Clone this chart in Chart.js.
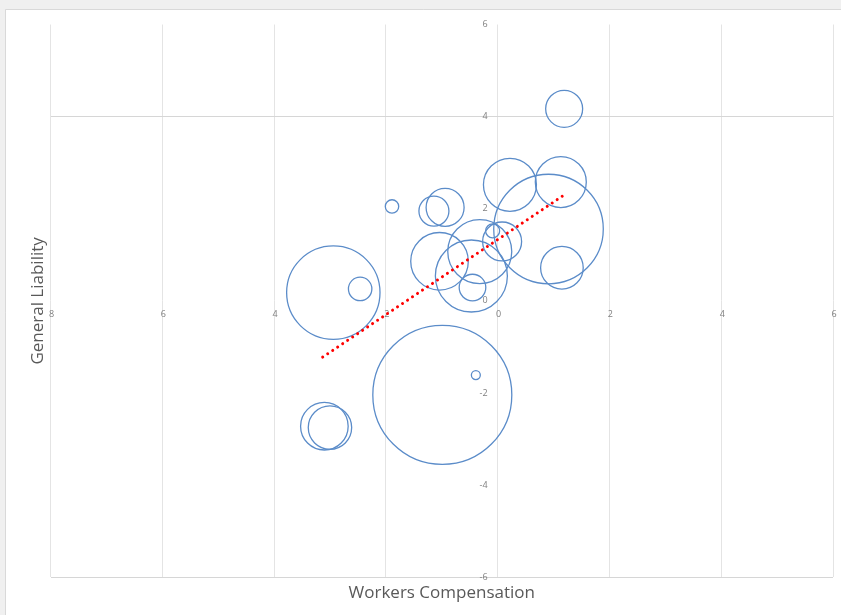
<!DOCTYPE html>
<html>
<head>
<meta charset="utf-8">
<script src="https://cdn.jsdelivr.net/npm/chart.js@4.4.1/dist/chart.umd.min.js"></script>
<style>
  html, body { margin: 0; padding: 0; background: #f0f0f0; }
  #wrap { width: 841px; height: 615px; }
  canvas { display: block; }
</style>
</head>
<body>
<div id="wrap"><canvas id="chart" width="841" height="615"></canvas></div>
<script>
// Workers Compensation (x) vs General Liability (y); bubble size = relative exposure
const wcValues = [1.19, 0.22, 1.13, 0.91, -1.89, -0.94, -1.14, -0.09, 0.08, -0.32,
                  -1.04, -0.47, -0.45, 1.15, -2.94, -2.46, -0.99, -0.39, -3.10, -3.00];
const glValues = [4.17, 2.52, 2.58, 1.56, 2.05, 2.03, 1.95, 1.52, 1.29, 1.07,
                  0.86, 0.54, 0.29, 0.72, 0.18, 0.26, -2.04, -1.61, -2.72, -2.75];
const bubbleSize = [3.42, 7.02, 6.50, 30.0, 0.45, 3.61, 2.25, 0.49, 3.80, 10.24,
                    8.29, 12.96, 1.77, 4.54, 21.8, 1.37, 48.3, 0.20, 5.66, 4.71];

// Linear trendline end points
const trendX = [-3.13, 1.19];
const trendY = [-1.22, 2.30];

// Axis tick values and their printed labels
const xTickValues = [-8, -6, -4, -2, 0, 2, 4, 6];
const xTickLabels = ['8', '6', '4', '2', '0', '2', '4', '6'];
const yTickValues = [6, 4, 2, 0, -2, -4, -6];
const yTickLabels = ['6', '4', '2', '0', '-2', '-4', '-6'];

const xTitle = 'Workers Compensation';
const yTitle = 'General Liability';

const SIZE_SCALE = 10; // radius in px = sqrt(size) * SIZE_SCALE

const bubbles = wcValues.map((x, i) => ({ x: x, y: glValues[i], r: Math.sqrt(bubbleSize[i]) * SIZE_SCALE }));
const trend = trendX.map((x, i) => ({ x: x, y: trendY[i] }));

const TEXT_FONT = '"Open Sans", "Liberation Sans", sans-serif';

// Page frame: grey surround with a white chart box
const framePlugin = {
  id: 'frame',
  beforeDraw(chart) {
    const ctx = chart.ctx;
    ctx.save();
    ctx.fillStyle = '#f0f0f0';
    ctx.fillRect(0, 0, chart.width, chart.height);
    ctx.fillStyle = '#ffffff';
    ctx.fillRect(6, 10, chart.width - 6, chart.height - 10);
    ctx.strokeStyle = '#d9d9d9';
    ctx.lineWidth = 1;
    ctx.beginPath();
    ctx.moveTo(5.5, chart.height);
    ctx.lineTo(5.5, 9.5);
    ctx.lineTo(chart.width, 9.5);
    ctx.stroke();
    ctx.restore();
  }
};

// Tick labels sit on the axes that cross at the origin; titles along the plot edges
const axisTextPlugin = {
  id: 'axisText',
  beforeDatasetsDraw(chart) {
    const ctx = chart.ctx;
    const xs = chart.scales.x, ys = chart.scales.y;
    const x0 = xs.getPixelForValue(0);
    const y0 = ys.getPixelForValue(0);
    ctx.save();
    ctx.fillStyle = '#808080';
    ctx.font = '9px ' + TEXT_FONT;
    ctx.textAlign = 'center';
    ctx.textBaseline = 'middle';
    xTickValues.forEach((v, i) => {
      ctx.fillText(xTickLabels[i], xs.getPixelForValue(v) + 1, y0 + 14);
    });
    ctx.textAlign = 'right';
    yTickValues.forEach((v, i) => {
      ctx.fillText(yTickLabels[i], x0 - 10, ys.getPixelForValue(v));
    });

    const area = chart.chartArea;
    ctx.fillStyle = '#595959';
    ctx.font = '17px ' + TEXT_FONT;
    ctx.textAlign = 'center';
    ctx.textBaseline = 'middle';
    ctx.fillText(xTitle, (area.left + area.right) / 2, 593);
    ctx.translate(38, (area.top + area.bottom) / 2);
    ctx.rotate(-Math.PI / 2);
    ctx.fillText(yTitle, 0, 0);
    ctx.restore();
  }
};

new Chart(document.getElementById('chart'), {
  type: 'bubble',
  data: {
    datasets: [
      {
        type: 'line',
        label: 'Trend',
        data: trend,
        borderColor: '#ff0000',
        borderWidth: 3,
        borderDash: [0.01, 6],
        borderCapStyle: 'round',
        pointRadius: 0,
        fill: false,
        order: 0
      },
      {
        label: 'Companies',
        data: bubbles,
        backgroundColor: 'rgba(0,0,0,0)',
        borderColor: '#5b8cc9',
        borderWidth: 1.3,
        hoverRadius: 0,
        order: 1
      }
    ]
  },
  options: {
    responsive: false,
    devicePixelRatio: 1,
    animation: false,
    events: [],
    layout: { autoPadding: false, padding: { left: 50.5, right: 8, top: 24.5, bottom: 37.7 } },
    plugins: { legend: { display: false }, tooltip: { enabled: false } },
    scales: {
      x: {
        type: 'linear',
        min: -8, max: 6,
        ticks: { stepSize: 2, display: false },
        grid: { color: '#e4e4e4', lineWidth: 1, drawTicks: false },
        border: { display: false }
      },
      y: {
        type: 'linear',
        min: -6, max: 6,
        ticks: { stepSize: 2, display: false },
        grid: {
          color: (c) => (c.tick && (c.tick.value === 4 || c.tick.value === -6)) ? '#d6d6d6' : 'rgba(0,0,0,0)',
          lineWidth: 1,
          drawTicks: false
        },
        border: { display: false }
      }
    }
  },
  plugins: [framePlugin, axisTextPlugin]
});
</script>
</body>
</html>
